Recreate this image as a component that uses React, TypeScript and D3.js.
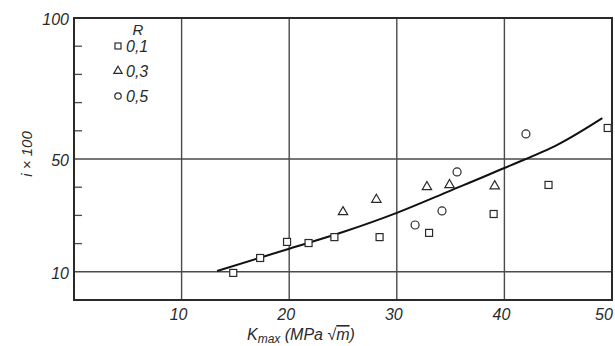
import React from "react";
import * as d3 from "d3";

const xTicks = [10, 20, 30, 40, 50];
const yLabels = [10, 50, 100];
const yGrid = [10, 50];
const yMinor = [20, 30, 40, 60, 70, 80, 90];

// R = 0.1 (squares)
const sqX = [14.8, 17.3, 19.8, 21.8, 24.2, 28.4, 33.0, 39.0, 44.1, 49.6];
const sqY = [9.6, 14.9, 20.6, 20.2, 22.3, 22.3, 23.8, 30.5, 40.8, 61.0];
// R = 0.3 (triangles)
const trX = [25.0, 28.1, 32.8, 34.9, 39.1];
const trY = [31.2, 35.6, 40.1, 40.8, 40.4];
// R = 0.5 (circles)
const ciX = [31.7, 34.2, 35.6, 42.0];
const ciY = [26.6, 31.6, 45.4, 58.9];
// fitted curve
const fitX = [13.3, 20, 25, 30, 35, 40, 45, 49.1];
const fitY = [10.3, 18.2, 24.1, 30.9, 38.8, 46.8, 55.2, 64.5];

const legendLabels = ["0,1", "0,3", "0,5"];

const W = 615, H = 346;
const ink = "#2a2a2a";
const font = "'Liberation Sans', Arial, sans-serif";

export default function App() {
  const x = d3.scaleLinear().domain([0, 50]).range([74, 612]);
  const y = d3.scaleLinear().domain([0, 100]).range([300, 18]);
  const line = d3
    .line<number>()
    .x((_, i) => x(fitX[i]))
    .y((_, i) => y(fitY[i]))
    .curve(d3.curveCatmullRom.alpha(0.5));
  const sq = 7;
  const tri = d3.symbol().type(d3.symbolTriangle).size(38)();

  const legendY = [46, 71, 96];

  return (
    <svg width={W} height={H} style={{ position: "absolute", left: 0, top: 0, background: "#fff" }}>
      {/* grid */}
      {xTicks.slice(0, 4).map((t) => (
        <line key={"gx" + t} x1={x(t)} x2={x(t)} y1={y(100)} y2={y(0)} stroke="#4a4a4a" strokeWidth={1.4} />
      ))}
      {yGrid.map((t) => (
        <line key={"gy" + t} x1={x(0)} x2={x(50)} y1={y(t)} y2={y(t)} stroke="#4a4a4a" strokeWidth={1.4} />
      ))}
      {yMinor.map((t) => (
        <line key={"my" + t} x1={x(0)} x2={x(0) + 8} y1={y(t)} y2={y(t)} stroke="#4a4a4a" strokeWidth={1.3} />
      ))}
      {/* frame */}
      <rect x={x(0)} y={y(100)} width={x(50) - x(0)} height={y(0) - y(100)} fill="none" stroke={ink} strokeWidth={2} />

      {/* y labels */}
      {yLabels.map((t) => (
        <text key={"yl" + t} x={69} y={y(t) + 7} textAnchor="end" fontFamily={font} fontStyle="italic" fontSize={16} fill={ink}>
          {t}
        </text>
      ))}
      {/* x labels */}
      {xTicks.map((t) => (
        <text key={"xl" + t} x={t === 50 ? x(t) - 8 : x(t) - 3} y={320} textAnchor="middle" fontFamily={font} fontStyle="italic" fontSize={16} fill={ink}>
          {t}
        </text>
      ))}

      {/* axis titles */}
      <text x={247} y={340} fontFamily={font} fontStyle="italic" fontSize={16} fill={ink}>
        K<tspan fontSize={12} dy={3}>max</tspan>
        <tspan dy={-3}> (MPa √</tspan>
        <tspan style={{ textDecoration: "overline" }}>m</tspan>
        <tspan>)</tspan>
      </text>
      <text
        transform="translate(32,154) rotate(-90)"
        textAnchor="middle"
        fontFamily={font}
        fontStyle="italic"
        fontSize={15}
        fill={ink}
      >
        i × 100
      </text>

      {/* curve */}
      <path d={line(fitX) || ""} fill="none" stroke="#111" strokeWidth={2} />

      {/* points */}
      {sqX.map((v, i) => (
        <rect key={"s" + i} x={x(v) - sq / 2} y={y(sqY[i]) - sq / 2} width={sq} height={sq} fill="#fff" stroke={ink} strokeWidth={1.2} />
      ))}
      {trX.map((v, i) => (
        <path key={"t" + i} d={tri || ""} transform={`translate(${x(v)},${y(trY[i])})`} fill="#fff" stroke={ink} strokeWidth={1.2} />
      ))}
      {ciX.map((v, i) => (
        <circle key={"c" + i} cx={x(v)} cy={y(ciY[i])} r={4} fill="#fff" stroke={ink} strokeWidth={1.2} />
      ))}

      {/* legend */}
      <text x={138} y={35} textAnchor="middle" fontFamily={font} fontStyle="italic" fontSize={15} fill={ink}>
        R
      </text>
      <rect x={118 - 3} y={legendY[0] - 3} width={6} height={6} fill="#fff" stroke={ink} strokeWidth={1.2} />
      <path d={d3.symbol().type(d3.symbolTriangle).size(30)() || ""} transform={`translate(118,${legendY[1]})`} fill="#fff" stroke={ink} strokeWidth={1.2} />
      <circle cx={118} cy={legendY[2]} r={3.2} fill="#fff" stroke={ink} strokeWidth={1.2} />
      {legendLabels.map((l, i) => (
        <text key={"ll" + i} x={126} y={legendY[i] + 6} fontFamily={font} fontStyle="italic" fontSize={16} fill={ink}>
          {l}
        </text>
      ))}
    </svg>
  );
}
